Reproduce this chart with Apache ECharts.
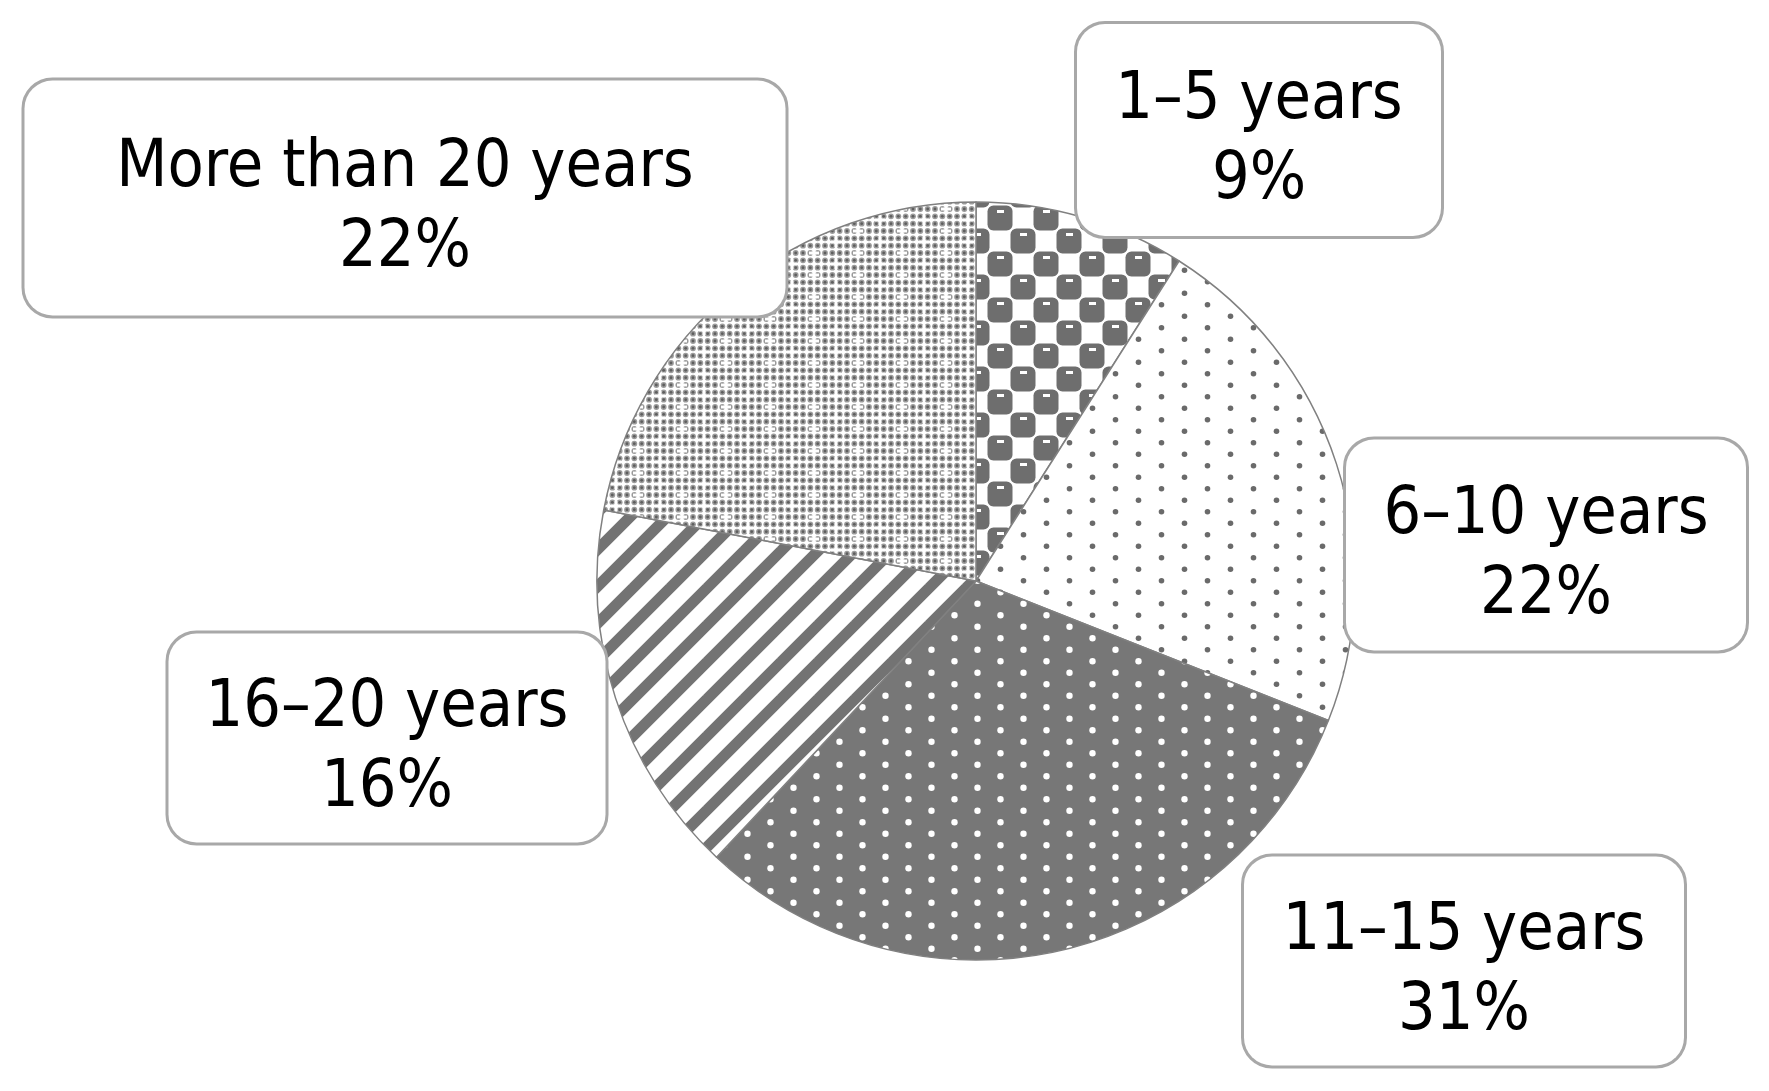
<!DOCTYPE html>
<html lang="en">

<head>
  <meta charset="utf-8">
  <title>Years of experience - pie</title>
  <style>
    * {
      margin: 0;
      padding: 0;
    }

    #chart-container {
      position: relative;
      width: 1769px;
      height: 1091px;
      overflow: hidden;
      background: #fff;
    }
  </style>
</head>

<body>
  <div id="chart-container"></div>
  <script src="https://cdn.jsdelivr.net/npm/echarts@6/dist/echarts.min.js"></script>
  <script>
    // data
    const categories = ['1–5 years', '6–10 years', '11–15 years', '16–20 years', 'More than 20 years'];
    const shares = [9, 22, 31, 16, 22];

    // label boxes: centre and size (px)
    const boxCenters = [[1259, 130], [1546, 545], [1464, 961], [387, 738], [405, 198]];
    const boxSizes = [[364, 212], [400, 211], [440, 209], [437, 209], [761, 235]];

    const FONT = "'DejaVu Sans Condensed', 'DejaVu Sans', sans-serif";
    const SPACER = 22; // pushes the two text lines a little below the box middle

    var dom = document.getElementById('chart-container');
    var myChart = echarts.init(dom, null, { renderer: 'canvas' });

    function makeTile(w, h, draw) {
      const c = document.createElement('canvas');
      c.width = w;
      c.height = h;
      const ctx = c.getContext('2d');
      draw(ctx, w, h);
      return c;
    }

    const DARK = '#777777';

    // 1-5: checker of dark "balls"
    const ballTile = makeTile(46, 46, function (ctx) {
      ctx.fillStyle = '#fff';
      ctx.fillRect(0, 0, 46, 46);
      [[0, 0], [23, 23], [-23, 23], [23, -23], [46, 0], [0, 46], [46, 46], [-23, -23]].forEach(function (p) {
        ctx.fillStyle = '#6e6e6e';
        ctx.beginPath();
        ctx.roundRect(p[0] - 1.5, p[1] - 1.5, 25, 25, 6);
        ctx.fill();
      });
      [[0, 0], [23, 23]].forEach(function (p) {
        ctx.fillStyle = '#fff';
        ctx.fillRect(p[0] + 8, p[1] + 3, 7, 3);
      });
    });

    // 6-10: sparse grey dots on white
    const dotTile = makeTile(46, 23, function (ctx) {
      ctx.fillStyle = '#fff';
      ctx.fillRect(0, 0, 46, 23);
      ctx.fillStyle = '#6a6a6a';
      [[11.5, 5.75], [34.5, 17.25]].forEach(function (p) {
        ctx.beginPath();
        ctx.arc(p[0], p[1], 2.8, 0, Math.PI * 2);
        ctx.fill();
      });
    });

    // 11-15: white dots on dark grey
    const darkDotTile = makeTile(46, 23, function (ctx) {
      ctx.fillStyle = DARK;
      ctx.fillRect(0, 0, 46, 23);
      ctx.fillStyle = '#fff';
      [[11.5, 5.75], [34.5, 17.25]].forEach(function (p) {
        ctx.beginPath();
        ctx.arc(p[0], p[1], 3.2, 0, Math.PI * 2);
        ctx.fill();
      });
    });

    // 16-20: diagonal stripes
    const stripeTile = makeTile(37, 37, function (ctx) {
      ctx.fillStyle = '#fff';
      ctx.fillRect(0, 0, 37, 37);
      ctx.strokeStyle = '#737373';
      ctx.lineWidth = 11;
      [-37, 0, 37].forEach(function (off) {
        ctx.beginPath();
        ctx.moveTo(off - 5, 42);
        ctx.lineTo(off + 42, -5);
        ctx.stroke();
      });
    });

    // more than 20: fine dotted texture with white crosses
    const fineTile = makeTile(44, 22, function (ctx) {
      ctx.fillStyle = '#fff';
      ctx.fillRect(0, 0, 44, 22);
      for (let i = 0; i < 6; i++) {
        for (let j = 0; j < 3; j++) {
          const x = i * 44 / 6 + 3.67, y = j * 22 / 3 + 3.67;
          ctx.fillStyle = '#9c9c9c';
          ctx.beginPath();
          ctx.arc(x, y, 2.9, 0, Math.PI * 2);
          ctx.fill();
          ctx.fillStyle = '#5e5e5e';
          ctx.beginPath();
          ctx.arc(x, y, 1.4, 0, Math.PI * 2);
          ctx.fill();
        }
      }
      ctx.fillStyle = '#fff';
      [[0, 0], [44, 0], [0, 22], [44, 22], [22, 11]].forEach(function (p) {
        ctx.fillRect(p[0] - 5, p[1] - 1.5, 10, 3);
        ctx.fillRect(p[0] - 1.5, p[1] - 5, 3, 10);
      });
    });

    const fills = [ballTile, dotTile, darkDotTile, stripeTile, fineTile];

    var option = {
      animation: false,
      series: [
        {
          type: 'pie',
          center: [976, 581],
          radius: 379,
          startAngle: 90,
          clockwise: true,
          silent: true,
          avoidLabelOverlap: false,
          data: categories.map(function (name, i) {
            const padV = (boxSizes[i][1] - 160 - SPACER) / 2;
            return {
              name: name,
              value: shares[i],
              itemStyle: { color: { image: fills[i], repeat: 'repeat' } },
              label: {
                width: boxSizes[i][0] - 40,
                padding: [padV, 20, padV, 20]
              }
            };
          }),
          itemStyle: {
            borderColor: '#808080',
            borderWidth: 1.5
          },
          label: {
            show: true,
            position: 'outside',
            formatter: function (p) {
              return '{s| }\n{t|' + p.name + '}\n{t|' + p.value + '%}';
            },
            rich: {
              s: { fontSize: 1, lineHeight: SPACER, height: SPACER },
              t: { fontSize: 66, lineHeight: 80, fontFamily: FONT, color: '#000', align: 'center' }
            },
            color: '#000',
            fontFamily: FONT,
            fontSize: 66,
            align: 'center',
            backgroundColor: '#fff',
            borderColor: '#a8a8a8',
            borderWidth: 3,
            borderRadius: 28
          },
          labelLine: { show: false },
          labelLayout: function (params) {
            const c = boxCenters[params.dataIndex];
            return {
              x: c[0],
              y: c[1],
              align: 'center',
              verticalAlign: 'middle'
            };
          }
        }
      ]
    };

    myChart.setOption(option);
    window.addEventListener('resize', myChart.resize);
  </script>
</body>

</html>
